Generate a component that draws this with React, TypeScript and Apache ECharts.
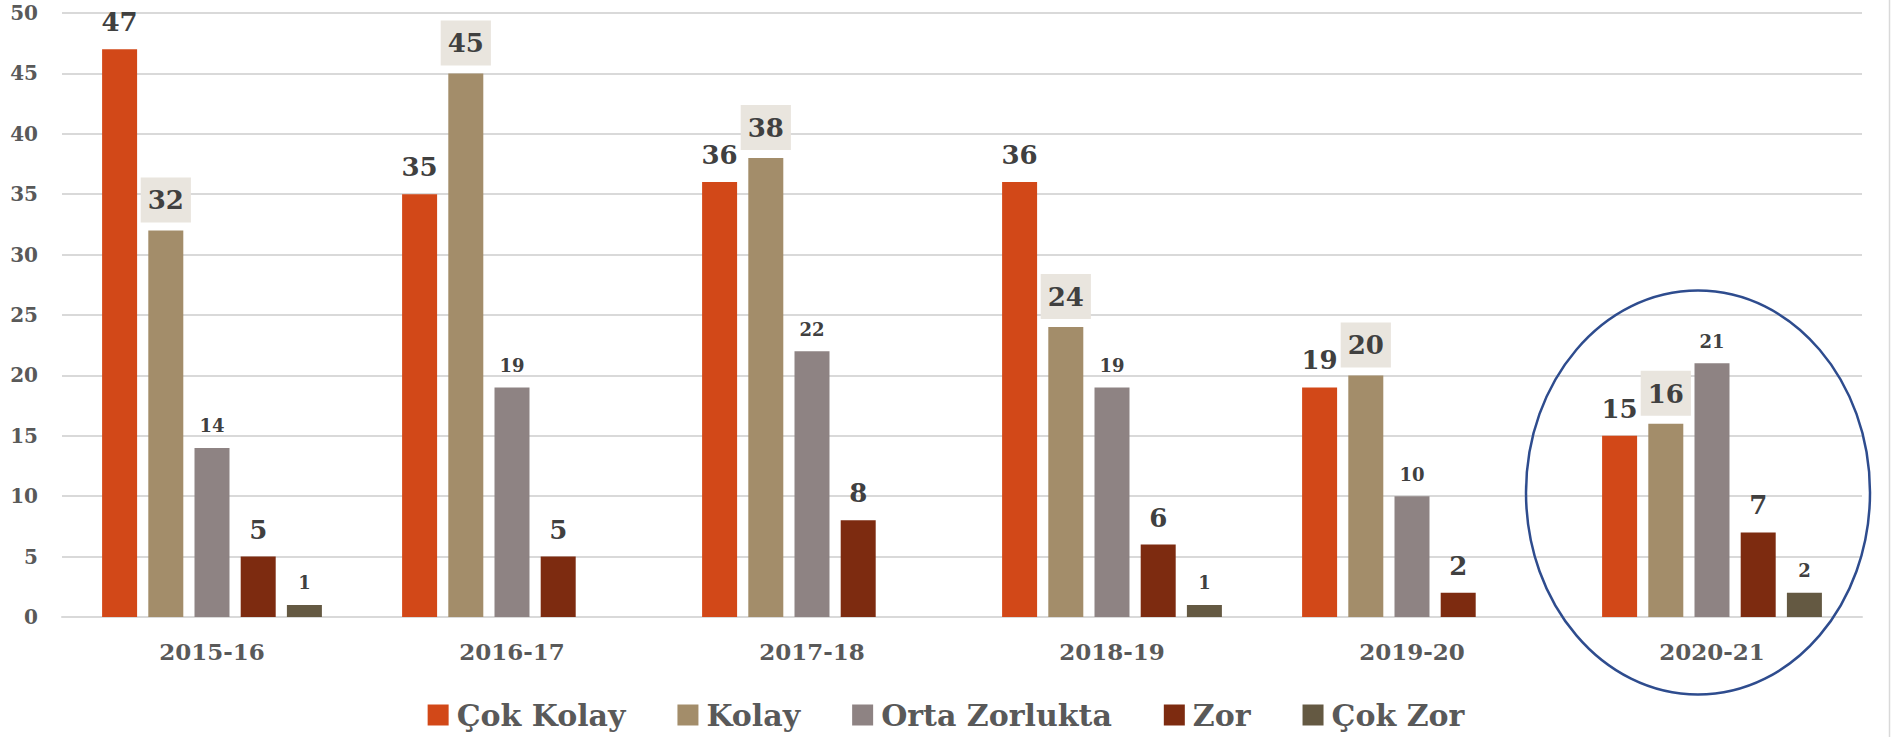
import React, { useEffect, useRef } from "react";
import * as echarts from "echarts";

const categories = ["2015-16", "2016-17", "2017-18", "2018-19", "2019-20", "2020-21"];
const seriesNames = ["Çok Kolay", "Kolay", "Orta Zorlukta", "Zor", "Çok Zor"];
const cokKolay = [47, 35, 36, 36, 19, 15];
const kolay = [32, 45, 38, 24, 20, 16];
const ortaZorlukta = [14, 19, 22, 19, 10, 21];
const zor = [5, 5, 8, 6, 2, 7];
const cokZor = [1, 0, 0, 1, 0, 2];
const yTicks = { min: 0, max: 50, interval: 5 };
const highlightedCategory = "2020-21";

const colors = ["#D24818", "#A38D6A", "#8E8383", "#7D2B10", "#645942"];
const FONT = "'DejaVu Serif', serif";

export default function App() {
  const ref = useRef<HTMLDivElement>(null);
  useEffect(() => {
    if (!ref.current) return;
    const chart = echarts.init(ref.current, null, { renderer: "svg" });
    const fmt = (p: any) => (p.value === 0 ? "" : String(p.value));
    const bigLabel = {
      show: true,
      position: "top",
      distance: 14,
      fontFamily: FONT,
      fontWeight: "bold",
      fontSize: 26,
      color: "#404040",
      formatter: fmt,
    };
    const smallLabel = { ...bigLabel, fontSize: 18, distance: 13 };
    const kolayLabel = {
      ...bigLabel,
      distance: 8,
      backgroundColor: "#E9E5DE",
      padding: [10, 7, 9, 7],
    };
    const datas = [cokKolay, kolay, ortaZorlukta, zor, cokZor];
    const labels = [bigLabel, kolayLabel, smallLabel, bigLabel, smallLabel];
    chart.setOption({
      animation: false,
      color: colors,
      grid: { left: 62, right: 30, top: 13, bottom: 120, containLabel: false },
      legend: {
        top: 694,
        left: "center",
        icon: "rect",
        itemWidth: 21,
        itemHeight: 21,
        itemGap: 52,
        textStyle: {
          fontFamily: FONT,
          fontWeight: "bold",
          fontSize: 30,
          lineHeight: 32,
          color: "#595959",
          padding: [0, 0, 0, 3],
        },
        data: seriesNames,
      },
      xAxis: {
        type: "category",
        data: categories,
        axisLine: { show: true, lineStyle: { color: "#D9D9D9", width: 2 } },
        axisTick: { show: false },
        axisLabel: { fontFamily: FONT, fontWeight: "bold", fontSize: 23, color: "#595959", margin: 23 },
      },
      yAxis: {
        type: "value",
        min: yTicks.min,
        max: yTicks.max,
        interval: yTicks.interval,
        axisLine: { show: false },
        axisTick: { show: false },
        splitLine: { lineStyle: { color: "#D9D9D9", width: 2 } },
        axisLabel: { fontFamily: FONT, fontWeight: "bold", fontSize: 20, color: "#595959", margin: 24 },
      },
      series: seriesNames.map((name, i) => ({
        name,
        type: "bar",
        data: datas[i],
        barWidth: 35,
        barGap: "32%",
        label: labels[i],
        itemStyle: { color: colors[i] },
      })),
    });
    const idx = categories.indexOf(highlightedCategory);
    const cx = chart.convertToPixel({ xAxisIndex: 0 }, idx) as number;
    const cy = chart.convertToPixel({ yAxisIndex: 0 }, 10.3) as number;
    const w = chart.getWidth();
    const h = chart.getHeight();
    chart.setOption({
      graphic: [
        {
          type: "ellipse",
          shape: { cx: cx - 14, cy, rx: 172, ry: 202 },
          style: { fill: "none", stroke: "#2E4C8E", lineWidth: 2.5 },
          z: 100,
        },
        {
          type: "line",
          shape: { x1: w - 2.5, y1: 0, x2: w - 2.5, y2: h },
          style: { stroke: "#D9D9D9", lineWidth: 1.5 },
        },
      ],
    });
    return () => chart.dispose();
  }, []);
  return (
    <div
      ref={ref}
      style={{ position: "fixed", left: 0, top: 0, width: 1892, height: 737, background: "#fff" }}
    />
  );
}
